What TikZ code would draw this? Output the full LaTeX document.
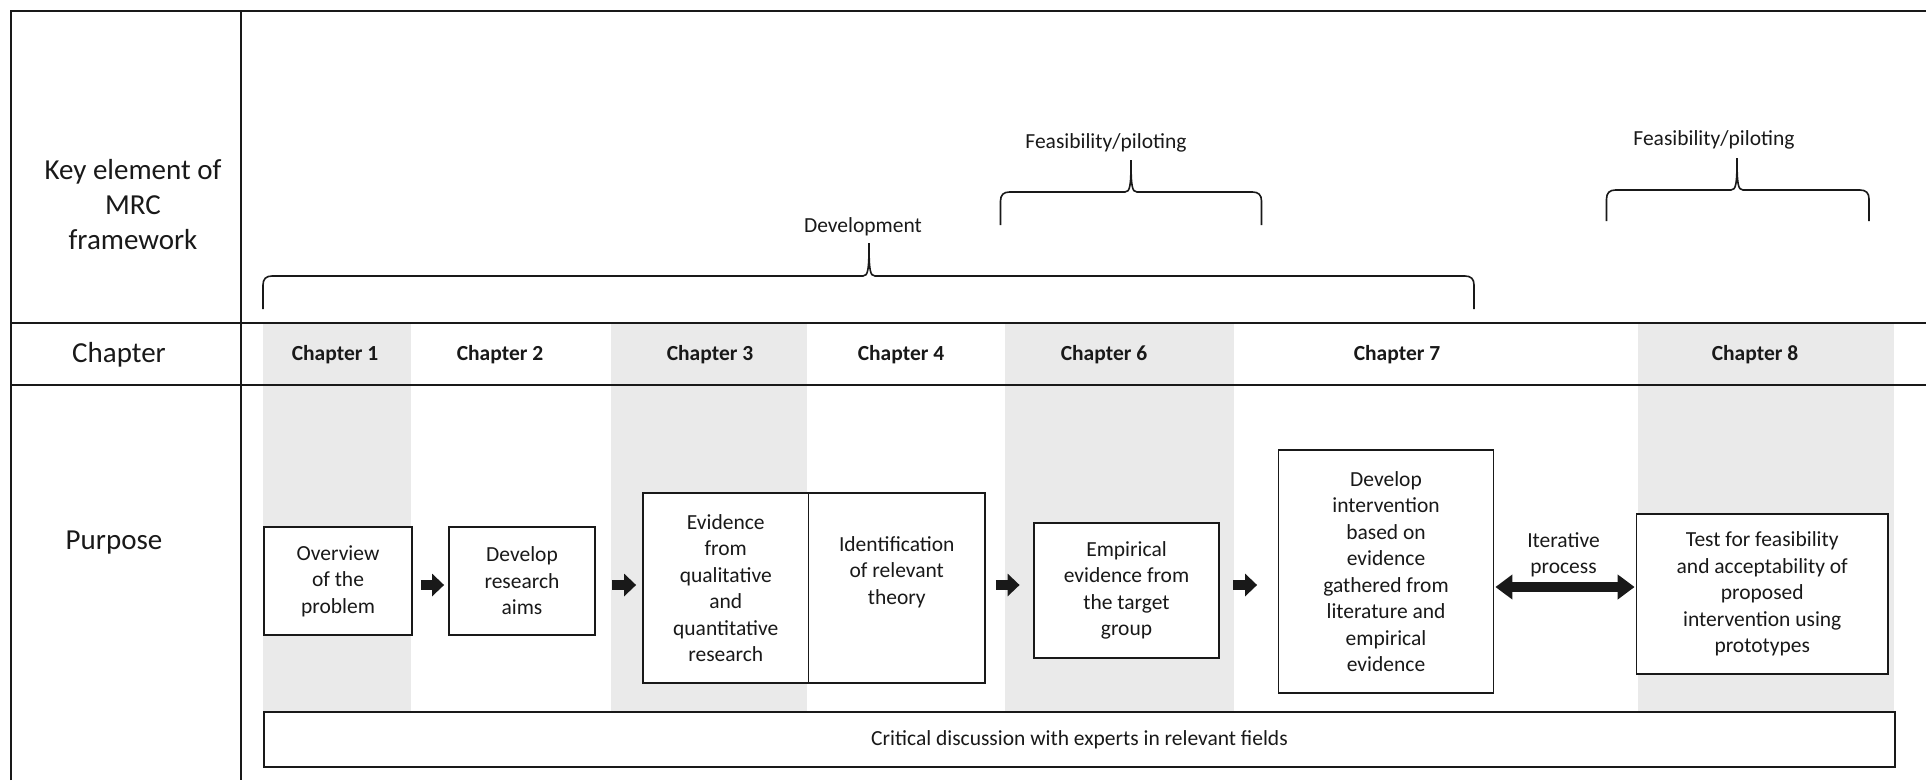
\documentclass[tikz,border=0pt]{standalone}
\usepackage{fontspec}
\setmainfont{Carlito}
\usetikzlibrary{arrows.meta}
\definecolor{band}{RGB}{234,234,234}
\definecolor{ink}{RGB}{25,25,25}

% curly bracket lying over a span: xL, xR, bar y, foot y, tip x, tip y
\newcommand\spanbrace[6]{%
  \draw[bracket] (#1,#4) -- (#1,#3+9)
    .. controls (#1,#3+3) and (#1+3,#3) .. (#1+9,#3)
    -- (#5-6,#3) .. controls (#5-1,#3) and (#5,#3-6) .. (#5,#6)
    .. controls (#5,#3-6) and (#5+1,#3) .. (#5+6,#3)
    -- (#2-9,#3) .. controls (#2-3,#3) and (#2,#3+3) .. (#2,#3+9)
    -- (#2,#4);}

\begin{document}
\begin{tikzpicture}[x=1pt,y=-1pt,
  grid/.style={line width=2pt,draw=ink},
  bracket/.style={line width=1.6pt,draw=ink},
  sidelabel/.style={align=center,inner sep=0pt,text=ink,font=\fontsize{29}{35}\selectfont},
  chap/.style={inner sep=0pt,text=ink,font=\fontsize{21.5}{26}\selectfont\bfseries},
  small/.style={align=center,inner sep=0pt,text=ink,font=\fontsize{21.5}{26}\selectfont},
  box/.style={draw=ink,fill=white,line width=1.8pt,inner sep=0pt,align=center,text=ink,
    font=\fontsize{21.5}{26.5}\selectfont},
  blockarrow/.style={line width=10pt,draw=ink,-{Triangle[length=12pt,width=22pt]}},
  twoway/.style={line width=10pt,draw=ink,{Triangle[length=17pt,width=24pt]}-{Triangle[length=17pt,width=24pt]}}
]
\useasboundingbox (0,0) rectangle (1926,780);

% shaded chapter columns
\fill[band] (263,323) rectangle (411,712);
\fill[band] (611,323) rectangle (807,712);
\fill[band] (1005,323) rectangle (1234,712);
\fill[band] (1638,323) rectangle (1894,712);

% table rules
\draw[grid] (11,780) -- (11,10.5) -- (1926,10.5);
\draw[grid] (241,10.5) -- (241,780);
\draw[grid] (11,323) -- (1926,323);
\draw[grid] (11,385) -- (1926,385);

% row headings
\node[sidelabel] (kelab) at (133,205) {Key element of\\MRC\\framework};
\node[sidelabel] (chlab) at (119,355) {Chapter};
\node[sidelabel] (pulab) at (114,543) {Purpose};

% chapter headings
\node[chap] (c1) at (335,355) {Chapter 1};
\node[chap] (c2) at (500,355) {Chapter 2};
\node[chap] (c3) at (710,355) {Chapter 3};
\node[chap] (c4) at (901,355) {Chapter 4};
\node[chap] (c6) at (1104,355) {Chapter 6};
\node[chap] (c7) at (1397,355) {Chapter 7};
\node[chap] (c8) at (1755,355) {Chapter 8};

% MRC framework elements
\spanbrace{263}{1474}{276}{309}{869}{243}
\node[small] (dev) at (863,227) {Development};
\spanbrace{1000.5}{1261.5}{192}{225}{1131}{160}
\node[small] (feas1) at (1106,143) {Feasibility/piloting};
\spanbrace{1606.5}{1869}{190}{221}{1737}{158}
\node[small] (feas2) at (1714,140) {Feasibility/piloting};

% purpose boxes
\node[box,minimum width=148pt,minimum height=108pt] (b1) at (338,581) {Overview\\of the\\problem};
\node[box,minimum width=146pt,minimum height=108pt] (b2) at (522,581) {Develop\\research\\aims};
\node[box,minimum width=165.5pt,minimum height=190pt] (b3) at (725.75,588) {Evidence\\from\\qualitative\\and\\quantitative\\research};
\node[box,minimum width=176.5pt,minimum height=190pt] (b4) at (896.75,588) {};
\node[small,font=\fontsize{21.5}{26.5}\selectfont] (b4t) at (896.75,572) {Identification\\of relevant\\theory};
\node[box,minimum width=185pt,minimum height=135pt] (b5) at (1126.5,590.5) {Empirical\\evidence from\\the target\\group};
\node[box,minimum width=215pt,minimum height=243pt] (b6) at (1386,571.5) {Develop\\intervention\\based on\\evidence\\gathered from\\literature and\\empirical\\evidence};
\node[box,minimum width=251.5pt,minimum height=160pt] (b7) at (1762.25,594) {Test for feasibility\\and acceptability of\\proposed\\intervention using\\prototypes};
\node[box,minimum width=1631pt,minimum height=55pt] (crit) at (1079.5,739.5) {Critical discussion with experts in relevant fields};

% flow arrows
\coordinate (row) at (0,585);
\coordinate (row2) at (0,587);
\draw[blockarrow,shorten <=8pt,shorten >=4pt] (b1.east |- row) -- (b2.west |- row);
\draw[blockarrow,shorten <=16pt,shorten >=6pt] (b2.east |- row) -- (b3.west |- row);
\draw[blockarrow,shorten <=10pt,shorten >=13.5pt] (b4.east |- row) -- (b5.west |- row);
\draw[blockarrow,shorten <=13.5pt,shorten >=20.5pt] (b5.east |- row) -- (b6.west |- row);
\draw[twoway,shorten <=1pt,shorten >=1pt] (b6.east |- row2) -- (b7.west |- row2);
\node[small] (iter) at (1563.5,555) {Iterative\\process};
\end{tikzpicture}
\end{document}
